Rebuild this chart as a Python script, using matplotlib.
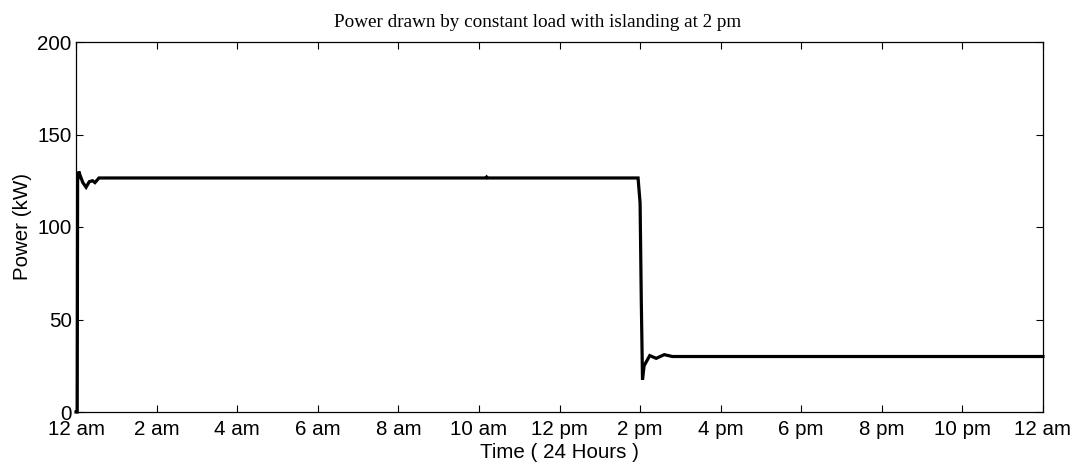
import matplotlib
matplotlib.use("Agg")
import matplotlib.pyplot as plt

# Data (hours since midnight, kW)
time_h = [0.0, 0.03, 0.04, 0.07, 0.10, 0.17, 0.25, 0.33, 0.41, 0.47, 0.57,
          10.17, 10.19, 10.21, 13.95, 14.00, 14.03, 14.06, 14.10, 14.24,
          14.40, 14.60, 14.80, 24.0]
power_kw = [0.0, 0.0, 125.0, 130.0, 128.0, 124.0, 121.5, 124.5, 125.0, 124.0, 126.5,
            126.5, 127.0, 126.5, 126.5, 113.0, 60.0, 17.5, 25.0, 30.5,
            29.0, 31.0, 30.0, 30.0]

xtick_pos = [0, 2, 4, 6, 8, 10, 12, 14, 16, 18, 20, 22, 24]
xtick_labels = ["12 am", "2 am", "4 am", "6 am", "8 am", "10 am", "12 pm",
                "2 pm", "4 pm", "6 pm", "8 pm", "10 pm", "12 am"]
ytick_pos = [0, 50, 100, 150, 200]

fig = plt.figure(figsize=(10.75, 4.62), dpi=100)
ax = fig.add_axes([76/1075, 50/462, (1043-76)/1075, (412-42)/462])

ax.plot(time_h, power_kw, color="black", linewidth=2.3, clip_on=False,
        solid_joinstyle="miter")

ax.set_xlim(0, 24)
ax.set_ylim(0, 200)
ax.set_xticks(xtick_pos)
ax.set_xticklabels(xtick_labels)
ax.set_yticks(ytick_pos)

sans = ["Liberation Sans", "DejaVu Sans"]
for lbl in ax.get_xticklabels() + ax.get_yticklabels():
    lbl.set_fontfamily(sans)
    lbl.set_fontsize(14.8)

ax.tick_params(direction="in", length=5, width=0.8, top=True, right=True,
               pad=3, colors="black")
ax.tick_params(axis="x", pad=6)
ax.tick_params(axis="y", pad=3)
for s in ax.spines.values():
    s.set_linewidth(0.9)

ax.set_xlabel("Time ( 24 Hours )", fontfamily=sans, fontsize=14.8, labelpad=3)
ax.set_ylabel("Power (kW)", fontfamily=sans, fontsize=14.8, labelpad=4)
ax.set_title("Power drawn by constant load with islanding at 2 pm",
             fontfamily=["Liberation Serif", "DejaVu Serif"], fontsize=13.8,
             pad=11, x=(537.5 - 76) / 967)

fig.savefig("out.png", dpi=100)
